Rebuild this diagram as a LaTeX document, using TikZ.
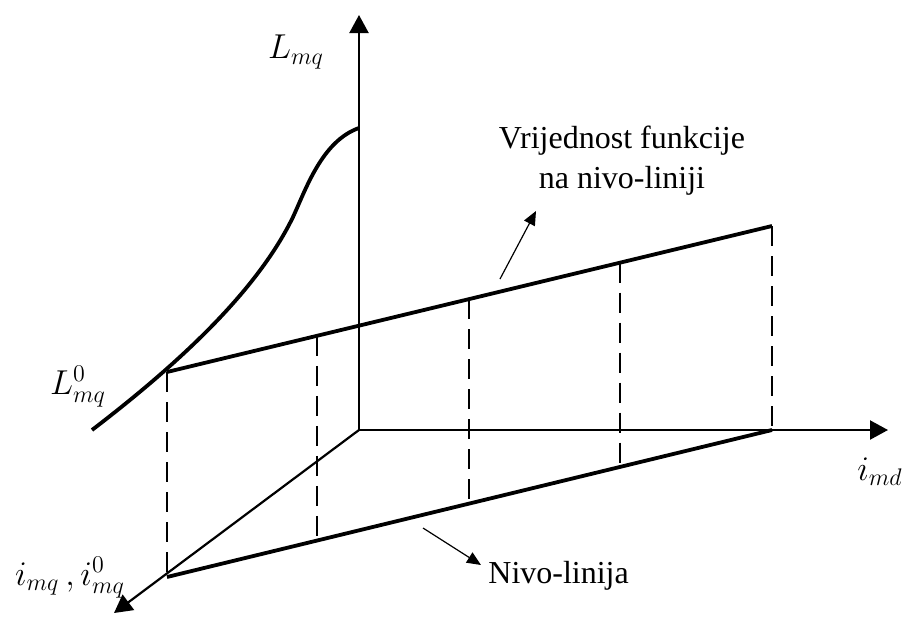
\documentclass[tikz,border=0pt]{standalone}
\usepackage{fontspec}
\setmainfont{Liberation Serif}
\usetikzlibrary{arrows.meta}
\begin{document}
\begin{tikzpicture}[x=0.5pt,y=-0.5pt,
  axis/.style={line width=1.1pt,-{Triangle[length=9pt,width=9.5pt]}},
  heavy/.style={line width=1.9pt},
  dashv/.style={line width=1.1pt,dash pattern=on 10pt off 5pt},
  note/.style={line width=0.6pt,-{Triangle[length=7pt,width=6pt]}},
  lbl/.style={font=\fontsize{16}{18}\selectfont,inner sep=0pt},
  mlbl/.style={font=\fontsize{18}{20}\selectfont,inner sep=0pt}]
\useasboundingbox (0,0) rectangle (906,617);
% axes
\coordinate (O) at (359,430);
\coordinate (Ztop) at (359,15);
\coordinate (Xend) at (888,430);
\coordinate (Qend) at (114,613);
\draw[axis] (O) -- (Ztop);
\draw[axis] (O) -- (Xend);
\draw[axis] (O) -- (Qend);
% upper and lower lines
\coordinate (U0) at (167,372);
\coordinate (U1) at (317,335.8);
\coordinate (U2) at (469,299.1);
\coordinate (U3) at (620,262.7);
\coordinate (U4) at (772,226);
\coordinate (L0) at (167,577);
\coordinate (L1) at (317,540.5);
\coordinate (L2) at (469,503.6);
\coordinate (L3) at (620,466.9);
\coordinate (L4) at (772,430);
\draw[dashv] (U0) -- (L0);
\draw[dashv] (U1) -- (L1);
\draw[dashv] (U2) -- (L2);
\draw[dashv] (U3) -- (L3);
\draw[dashv] (U4) -- (L4);
\draw[heavy] (U0) -- (U4);
\draw[heavy] (L0) -- (L4);
% curve
\coordinate (C0) at (92,430);
\coordinate (C1) at (293,217);
\coordinate (C2) at (359,128);
\draw[heavy] (C0) .. controls (190,355) and (260,285) .. (C1)
  .. controls (306,189) and (322,141) .. (C2);
% labels
\node[mlbl] (Lmq) at (296,52) {$L_{mq}$};
\node[mlbl] (L0mq) at (78,387) {$L^{0}_{mq}$};
\node[mlbl] (imq) at (70,578) {$i_{mq}\,,i^{0}_{mq}$};
\node[mlbl] (imd) at (880,472) {$i_{md}$};
\node[lbl,align=center] (vf) at (622,161) {Vrijednost funkcije\\[2pt]na nivo-liniji};
\node[lbl,anchor=west] (nl) at (488,576) {Nivo-linija};
\coordinate (a1s) at (500,279);
\coordinate (a1e) at (536,211);
\coordinate (a2s) at (423,528);
\coordinate (a2e) at (481,565);
\draw[note] (a1s) -- (a1e);
\draw[note] (a2s) -- (a2e);
\end{tikzpicture}
\end{document}
